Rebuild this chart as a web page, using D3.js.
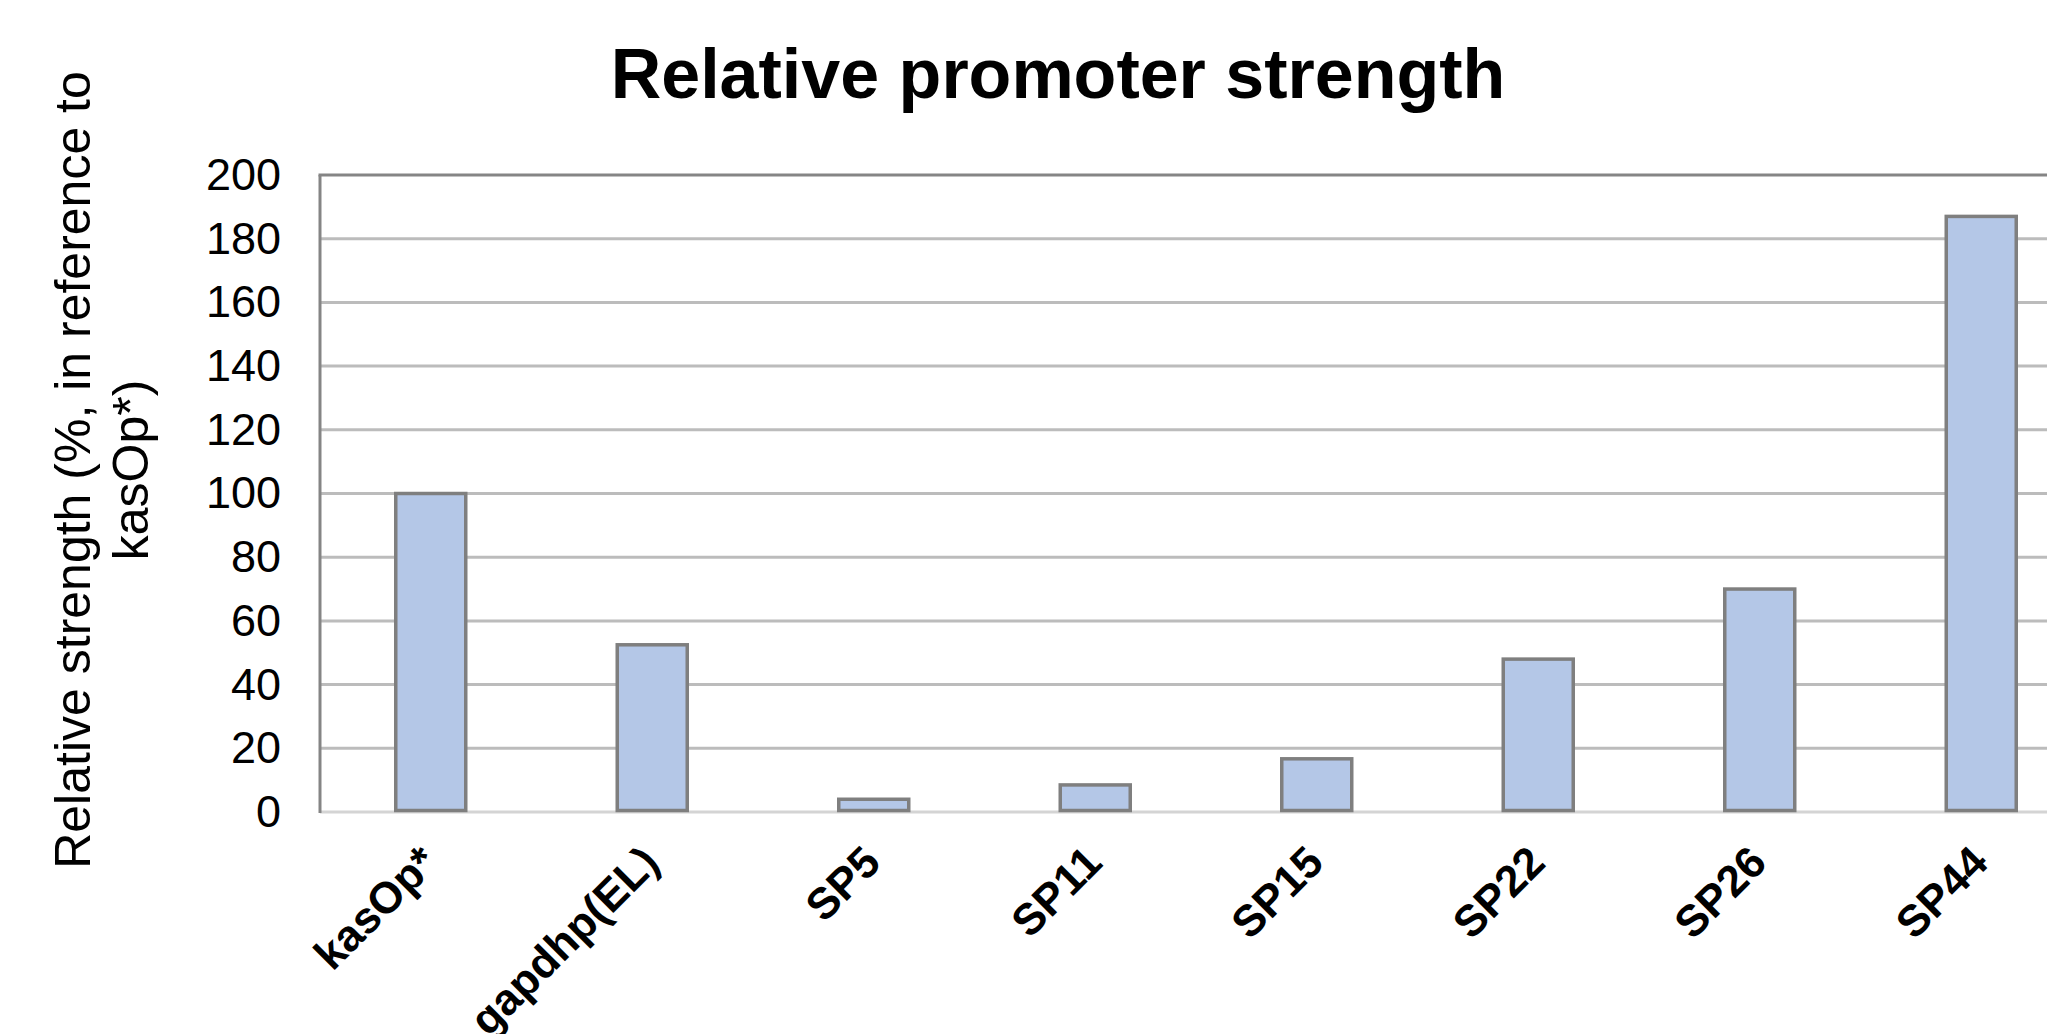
<!DOCTYPE html>
<html>
<head>
<meta charset="utf-8">
<script src="https://cdn.jsdelivr.net/npm/d3@7"></script>
<style>
  html, body { margin: 0; padding: 0; background: #fff; overflow: hidden; }
  text { font-family: "Liberation Sans", Arial, sans-serif; }
</style>
</head>
<body>
<svg id="chart" width="2047" height="1034"></svg>
<script>
const categories = ["kasOp*", "gapdhp(EL)", "SP5", "SP11", "SP15", "SP22", "SP26", "SP44"];
const values = [100, 52.5, 4, 8.5, 16.7, 48, 70, 187];
const yTicks = [0, 20, 40, 60, 80, 100, 120, 140, 160, 180, 200];
const titleText = "Relative promoter strength";
const yTitleLines = ["Relative strength (%, in reference to", "kasOp*)"];

const svg = d3.select("#chart");
svg.append("rect").attr("width", 2047).attr("height", 1034).attr("fill", "#fff");

const plot = { left: 320, top: 175, bottom: 812, band: 221.5 };
const plotRight = plot.left + plot.band * categories.length;

const x = d3.scaleBand().domain(categories).range([plot.left, plotRight]).paddingInner(0.684).paddingOuter(0.342);
const y = d3.scaleLinear().domain([0, 200]).range([plot.bottom, plot.top]);

// gridlines
const grid = svg.append("g");
grid.selectAll("line").data(yTicks.filter(t => t > 0 && t < 200)).join("line")
  .attr("x1", plot.left).attr("x2", plotRight)
  .attr("y1", d => y(d)).attr("y2", d => y(d))
  .attr("stroke", "#bcbcbc").attr("stroke-width", 3);

// baseline
svg.append("line").attr("x1", plot.left).attr("x2", plotRight)
  .attr("y1", y(0)).attr("y2", y(0)).attr("stroke", "#d4d4d4").attr("stroke-width", 3);

// bars
svg.append("g").selectAll("rect").data(categories).join("rect")
  .attr("x", d => x(d))
  .attr("width", x.bandwidth())
  .attr("y", (d, i) => y(values[i]))
  .attr("height", (d, i) => y(0) - y(values[i]) - 1.5)
  .attr("fill", "#b4c7e7")
  .attr("stroke", "#7f7f7f")
  .attr("stroke-width", 3.5);

// plot border top & left
svg.append("line").attr("x1", plot.left - 1.5).attr("x2", plotRight)
  .attr("y1", plot.top).attr("y2", plot.top).attr("stroke", "#858585").attr("stroke-width", 3);
svg.append("line").attr("x1", plot.left).attr("x2", plot.left)
  .attr("y1", plot.top).attr("y2", plot.bottom + 1).attr("stroke", "#858585").attr("stroke-width", 3);

// y axis labels
const yAxis = d3.axisLeft(y).tickValues(yTicks).tickSize(0).tickPadding(39);
const gy = svg.append("g").attr("transform", `translate(${plot.left},0)`).call(yAxis);
gy.select(".domain").remove();
gy.selectAll("text").attr("font-size", 45).attr("fill", "#000")
  .style("font-family", "'Liberation Sans', Arial, sans-serif");

// x axis labels
const xAxis = d3.axisBottom(x).tickSize(0).tickPadding(0);
const gx = svg.append("g").attr("transform", `translate(0,${plot.bottom})`).call(xAxis);
gx.select(".domain").remove();
gx.selectAll("text")
  .attr("font-size", 44).attr("font-weight", "bold").attr("fill", "#000")
  .style("font-family", "'Liberation Sans', Arial, sans-serif")
  .attr("text-anchor", "end")
  .attr("dy", 0).attr("y", 0)
  .attr("transform", "translate(9,53) rotate(-45)");

// title
svg.append("text").attr("x", 1058).attr("y", 98)
  .attr("text-anchor", "middle").attr("font-size", 70).attr("font-weight", "bold")
  .attr("fill", "#000").text(titleText);

// y title
const yt = svg.append("text").attr("transform", "translate(72,470) rotate(-90)")
  .attr("text-anchor", "middle").attr("font-size", 50).attr("fill", "#000");
yt.selectAll("tspan").data(yTitleLines).join("tspan")
  .attr("x", 0).attr("dy", (d, i) => i === 0 ? "0.35em" : "1.16em").text(d => d);
</script>
</body>
</html>
